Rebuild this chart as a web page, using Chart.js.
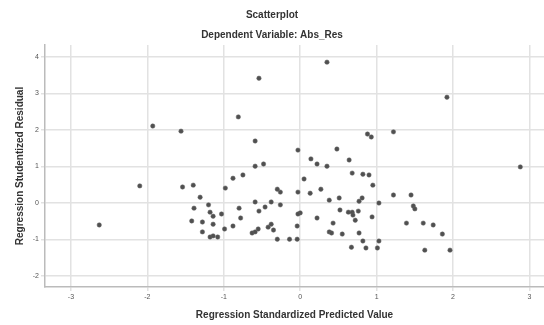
<!DOCTYPE html>
<html>
<head>
<meta charset="utf-8">
<script src="https://cdn.jsdelivr.net/npm/chart.js@4"></script>
<style>
  body { margin: 0; background: #fff; }
  #wrap { width: 544px; height: 325px; }
</style>
</head>
<body>
<div id="wrap"><canvas id="scatter" width="544" height="325"></canvas></div>
<script>
// values
const predicted = [
  0.35, -0.54, 1.92, -0.81, -1.93, -1.56, -0.59, 0.88, 0.93, 1.22,
  -0.03, 0.48, 0.14, 0.22, 0.35, 0.64, 0.68, 0.82, 0.90, -0.59,
  -0.48, -0.88, -0.75, 0.05, 0.95, -2.10, -1.54, -1.40, -0.98, -0.30,
  -0.26, -0.03, 0.27, 0.13, -1.31, 0.51, 0.38, 0.81, 0.77, 1.03,
  1.22, 1.45, 1.48, 1.50, -1.39, -1.20, -0.59, -0.54, -0.46, -0.38,
  -0.26, -0.80, -1.18, -1.14, -1.03, 0.00, -0.03, 0.52, 0.63, 0.68,
  0.69, 0.76, 0.22, 0.72, 0.94, -0.78, -1.42, -2.63, -1.28, -1.14,
  0.43, -0.04, 1.39, 1.61, 1.74, 1.86, -0.99, -0.88, -0.63, -0.59,
  -0.55, -0.42, -0.38, -0.35, -1.28, 0.38, 0.41, 0.55, 0.77, -1.18,
  -1.14, -1.08, -0.30, -0.14, -0.04, 0.82, 1.03, 0.67, 0.86, 1.01,
  1.63, 1.96, 2.88
];
const residual = [
  3.86, 3.42, 2.90, 2.36, 2.11, 1.97, 1.70, 1.89, 1.81, 1.95,
  1.45, 1.48, 1.21, 1.07, 1.01, 1.18, 0.82, 0.79, 0.77, 1.01,
  1.07, 0.68, 0.77, 0.66, 0.49, 0.47, 0.44, 0.49, 0.41, 0.38,
  0.30, 0.30, 0.38, 0.27, 0.16, 0.14, 0.08, 0.14, 0.05, 0.00,
  0.22, 0.22, -0.08, -0.16, -0.14, -0.05, 0.03, -0.22, -0.11, 0.03,
  -0.05, -0.14, -0.25, -0.36, -0.30, -0.27, -0.30, -0.19, -0.25, -0.25,
  -0.33, -0.22, -0.41, -0.47, -0.38, -0.41, -0.49, -0.60, -0.52, -0.58,
  -0.55, -0.63, -0.55, -0.55, -0.60, -0.85, -0.71, -0.63, -0.82, -0.79,
  -0.71, -0.66, -0.58, -0.74, -0.79, -0.79, -0.82, -0.85, -0.82, -0.93,
  -0.90, -0.93, -0.99, -0.99, -0.99, -1.04, -1.04, -1.21, -1.23, -1.23,
  -1.29, -1.29, 0.99
];
const xTicks = [-3, -2, -1, 0, 1, 2, 3];
const yTicks = [-2, -1, 0, 1, 2, 3, 4];

const points = predicted.map((x, i) => ({ x: x, y: residual[i] }));

const font = 'Liberation Sans, Arial, sans-serif';

new Chart(document.getElementById('scatter'), {
  type: 'scatter',
  data: {
    datasets: [{
      data: points,
      backgroundColor: '#505050',
      borderColor: 'rgba(100,100,100,0.5)',
      borderWidth: 1,
      pointRadius: 2.2
    }]
  },
  options: {
    responsive: false,
    animation: false,
    layout: { padding: 0, autoPadding: false },
    plugins: {
      legend: { display: false },
      tooltip: { enabled: false },
      title: {
        display: true,
        text: 'Scatterplot',
        color: '#333',
        font: { family: font, size: 10, weight: 'bold' },
        padding: { top: 9, bottom: 8 }
      },
      subtitle: {
        display: true,
        text: 'Dependent Variable: Abs_Res',
        color: '#333',
        font: { family: font, size: 10, weight: 'bold' },
        padding: { top: 0, bottom: 4 }
      }
    },
    scales: {
      x: {
        type: 'linear',
        min: -3.34,
        max: 3.19,
        afterBuildTicks: s => { s.ticks = xTicks.map(v => ({ value: v })); },
        afterFit: s => { s.height = 38; },
        ticks: { color: '#555', font: { family: font, size: 7 }, padding: 2 },
        grid: { color: '#e2e2e2', lineWidth: 1.5, tickLength: 4 },
        border: { color: '#bbb', width: 1.5 },
        title: {
          display: true,
          text: 'Regression Standardized Predicted Value',
          color: '#333',
          font: { family: font, size: 10, weight: 'bold' },
          padding: { top: 0, bottom: 4 }
        }
      },
      y: {
        type: 'linear',
        min: -2.3,
        max: 4.33,
        afterBuildTicks: s => { s.ticks = yTicks.map(v => ({ value: v })); },
        afterFit: s => { s.width = 45; },
        ticks: { color: '#555', font: { family: font, size: 7 }, padding: 2 },
        grid: { color: '#e2e2e2', lineWidth: 1.5, tickLength: 4 },
        border: { color: '#bbb', width: 1.5 },
        title: {
          display: true,
          text: 'Regression Studentized Residual',
          color: '#333',
          font: { family: font, size: 10, weight: 'bold' },
          padding: { top: 14, bottom: 0 }
        }
      }
    }
  }
});
</script>
</body>
</html>
